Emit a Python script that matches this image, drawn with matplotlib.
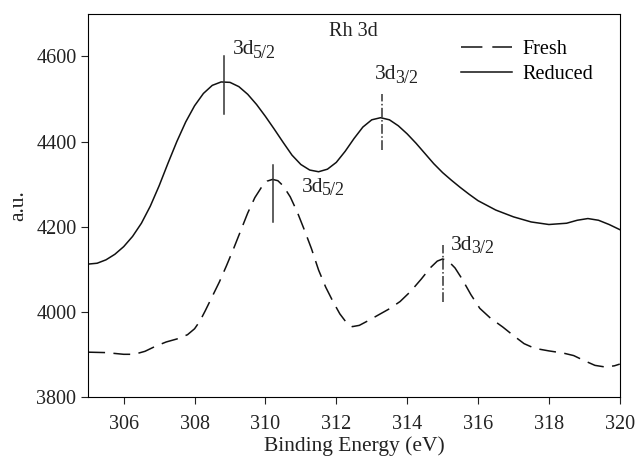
import matplotlib
matplotlib.use("Agg")
import matplotlib.pyplot as plt

plt.rcParams['font.family'] = ['Liberation Serif', 'DejaVu Serif']

# binding energy (eV) and intensity
reduced_x = [305.0, 305.25, 305.5, 305.75, 306.0, 306.25, 306.5, 306.75, 307.0, 307.25,
             307.5, 307.75, 308.0, 308.25, 308.5, 308.75, 309.0, 309.25, 309.5, 309.75,
             310.0, 310.25, 310.5, 310.75, 311.0, 311.25, 311.5, 311.75, 312.0, 312.25,
             312.5, 312.75, 313.0, 313.25, 313.5, 313.75, 314.0, 314.25, 314.5, 314.75,
             315.0, 315.25, 315.5, 315.75, 316.0, 316.5, 317.0, 317.5, 318.0, 318.5,
             318.8, 319.1, 319.4, 319.7, 320.0]
reduced_y = [4112, 4114, 4122, 4135, 4153, 4177, 4208, 4248, 4296, 4349,
             4400, 4446, 4484, 4513, 4532, 4540, 4539, 4529, 4511, 4487,
             4459, 4429, 4398, 4368, 4346, 4333, 4329, 4335, 4351, 4377,
             4407, 4434, 4451, 4456, 4451, 4437, 4418, 4396, 4372, 4348,
             4327, 4309, 4292, 4276, 4261, 4239, 4223, 4211, 4205, 4208,
             4215, 4219, 4215, 4205, 4193]

fresh_x = [305.0, 305.5, 306.0, 306.3, 306.6, 306.9, 307.2, 307.5, 307.8, 308.0,
           308.15, 308.3, 308.5, 308.7, 308.9, 309.1, 309.3, 309.5, 309.7, 309.9,
           310.05, 310.2, 310.35, 310.5, 310.7, 310.9, 311.1, 311.3, 311.5, 311.7,
           311.9, 312.1, 312.3, 312.45, 312.65, 312.9, 313.2, 313.5, 313.8, 314.1,
           314.4, 314.65, 314.85, 315.0, 315.15, 315.35, 315.55, 315.8, 316.05, 316.35,
           316.7, 317.0, 317.3, 317.6, 318.0, 318.4, 318.7, 319.0, 319.3, 319.6,
           319.85, 320.0]
fresh_y = [3905, 3904, 3900, 3900, 3907, 3919, 3929, 3936, 3946, 3960,
           3978, 4002, 4036, 4070, 4108, 4148, 4190, 4232, 4268, 4294,
           4307, 4311, 4308, 4296, 4270, 4234, 4192, 4148, 4098, 4058,
           4025, 3995, 3973, 3965, 3968, 3979, 3993, 4007, 4024, 4048,
           4077, 4103, 4119, 4124, 4120, 4103, 4077, 4040, 4008, 3985,
           3964, 3944, 3925, 3914, 3908, 3903, 3897, 3885, 3874, 3870,
           3873, 3877]

# peak markers: position, line bottom, line top, style
peak_x = [308.83, 313.28, 310.2, 315.0]
peak_lo = [4464, 4381, 4212, 4024]
peak_hi = [4600, 4511, 4346, 4158]
peak_ls = ['-', '-.', '-', '-.']
peak_main = ['3d', '3d', '3d', '3d']
peak_sub = ['5/2', '3/2', '5/2', '3/2']
label_x = [309.08, 313.09, 311.03, 315.24]
label_y = [4605, 4546, 4282, 4146]

fig = plt.figure(figsize=(6.35, 4.62), dpi=100)
ax = fig.add_axes([0.139, 0.141, 0.837, 0.829])

ax.plot(fresh_x, fresh_y, color='#111111', lw=1.1, linestyle=(0, (11, 5.5)), label='Fresh')
ax.plot(reduced_x, reduced_y, color='#111111', lw=1.1, label='Reduced')

for x, lo, hi, ls in zip(peak_x, peak_lo, peak_hi, peak_ls):
    ax.plot([x, x], [lo, hi], color='#333333', lw=1.1, linestyle=ls)

for x, y, m, s in zip(label_x, label_y, peak_main, peak_sub):
    t = ax.text(x, y, m, fontsize=15.5, color='#222222', va='baseline', ha='left')
    ax.annotate(s, xy=(1, 0), xycoords=t, xytext=(-0.8, -1.8), textcoords='offset points',
                fontsize=13, color='#222222', va='bottom', ha='left')

ax.text(311.8, 4647, 'Rh 3d', fontsize=14.5, color='#222222', va='baseline', ha='left')

ax.set_xlim(305, 320)
ax.set_ylim(3800, 4700)
ax.set_xticks([306, 308, 310, 312, 314, 316, 318, 320])
ax.set_yticks([3800, 4000, 4200, 4400, 4600])
ax.tick_params(direction='out', length=5, labelsize=14.5, colors='#222222')
ax.tick_params(axis='x', pad=8)
ax.set_xlabel('Binding Energy (eV)', fontsize=15.5, color='#222222', labelpad=2)
ax.set_ylabel('a.u.', fontsize=15.5, color='#222222', labelpad=6)

leg = ax.legend(loc='upper right', bbox_to_anchor=(0.985, 0.98), frameon=False,
                fontsize=14.5, handlelength=2.5, handletextpad=0.55, labelspacing=0.3)
# two clean dashes in the legend key
leg.get_lines()[0].set_dashes([14, 6.5])

fig.savefig('out.png', dpi=100)
